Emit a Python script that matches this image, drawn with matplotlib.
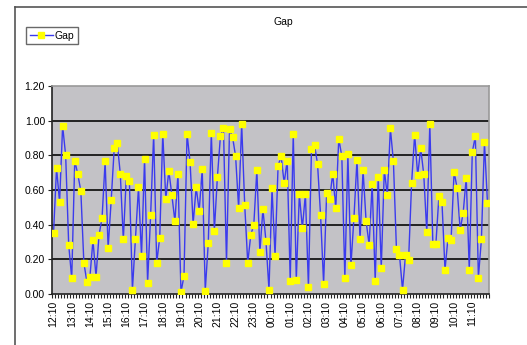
import matplotlib
matplotlib.use("Agg")
import matplotlib.pyplot as plt
from matplotlib.lines import Line2D
import numpy as np

title = "Gap"
series_name = "Gap"
gap = [0.35, 0.725, 0.53, 0.97, 0.80, 0.285, 0.09, 0.77, 0.69, 0.595,
       0.18, 0.07, 0.10, 0.31, 0.10, 0.34, 0.44, 0.765, 0.265, 0.54,
       0.84, 0.87, 0.695, 0.315, 0.68, 0.65, 0.025, 0.315, 0.615, 0.22,
       0.78, 0.065, 0.455, 0.92, 0.18, 0.325, 0.925, 0.55, 0.71, 0.57,
       0.42, 0.69, 0.01, 0.105, 0.925, 0.76, 0.405, 0.615, 0.48, 0.72,
       0.02, 0.295, 0.93, 0.365, 0.675, 0.91, 0.96, 0.18, 0.95, 0.905,
       0.795, 0.495, 0.98, 0.515, 0.18, 0.34, 0.40, 0.715, 0.24, 0.49,
       0.305, 0.025, 0.61, 0.22, 0.74, 0.795, 0.64, 0.77, 0.077, 0.925,
       0.083, 0.575, 0.38, 0.577, 0.04, 0.835, 0.86, 0.75, 0.455, 0.06,
       0.58, 0.55, 0.695, 0.495, 0.895, 0.795, 0.09, 0.805, 0.165, 0.44,
       0.775, 0.315, 0.715, 0.42, 0.285, 0.635, 0.077, 0.675, 0.15, 0.715,
       0.57, 0.955, 0.765, 0.26, 0.225, 0.025, 0.225, 0.195, 0.64, 0.92,
       0.685, 0.84, 0.69, 0.355, 0.98, 0.29, 0.29, 0.565, 0.53, 0.14,
       0.325, 0.31, 0.705, 0.61, 0.37, 0.47, 0.67, 0.14, 0.82, 0.91,
       0.095, 0.315, 0.875, 0.525]
hour_labels = ["12:10", "13:10", "14:10", "15:10", "16:10", "17:10", "18:10",
               "19:10", "20:10", "21:10", "22:10", "23:10", "00:10", "01:10",
               "02:10", "03:10", "04:10", "05:10", "06:10", "07:10", "08:10",
               "09:10", "10:10", "11:10"]
y_ticks = [0.0, 0.2, 0.4, 0.6, 0.8, 1.0, 1.2]

plt.rcParams['font.family'] = ['Liberation Sans', 'DejaVu Sans']

W, H = 527, 345
fig = plt.figure(figsize=(W / 100, H / 100), dpi=100)
fig.patch.set_facecolor("white")

# chart area border (left & top)
fig.add_artist(Line2D([15 / W, 15 / W], [0, 1 - 7 / H], transform=fig.transFigure,
                      color="#555555", lw=1.2))
fig.add_artist(Line2D([15 / W, 1], [1 - 7 / H, 1 - 7 / H], transform=fig.transFigure,
                      color="#555555", lw=1.2))

ax = fig.add_axes([52 / W, 1 - 294 / H, (489 - 52) / W, (294 - 86) / H])
ax.set_facecolor("#C3C2C6")

n = len(gap)
x = np.arange(n)
ax.plot(x, gap, color="#3B3BEE", lw=1.0, marker="s", markersize=3.8,
        markerfacecolor="#FFFF00", markeredgecolor="#FFFF00", label=series_name,
        zorder=3)

ax.set_xlim(-0.5, n - 0.5)
ax.set_ylim(0, 1.2)
ax.set_yticks(y_ticks)
ax.set_yticklabels([f"{v:.2f}" for v in y_ticks], fontsize=7.5)
for v in y_ticks[1:-1]:
    ax.axhline(v, color="#222222", lw=1.4, zorder=1)

label_pos = np.arange(0, n, 6)[:len(hour_labels)]
ax.set_xticks(label_pos)
ax.set_xticklabels(hour_labels, rotation=90, fontsize=7.5)
ax.set_xticks(np.arange(-0.5, n, 1), minor=True)
ax.tick_params(axis="x", which="major", length=0, pad=5)
ax.tick_params(axis="x", which="minor", length=3, width=0.8, color="#222222")
ax.tick_params(axis="y", which="major", length=3, width=0.8, color="#222222", pad=2)

for s in ["top", "right"]:
    ax.spines[s].set_color("#999999")
    ax.spines[s].set_linewidth(1.2)
for s in ["left", "bottom"]:
    ax.spines[s].set_color("#222222")
    ax.spines[s].set_linewidth(1.2)

fig.text(283 / W, 1 - 22 / H, title, ha="center", va="center", fontsize=7.5)

leg = fig.legend(loc="upper left", bbox_to_anchor=(26 / W, 1 - 27 / H),
                 fontsize=7.5, frameon=True, fancybox=False, handlelength=2.2,
                 borderpad=0.35, handletextpad=0.2, borderaxespad=0)
leg.get_frame().set_edgecolor("#444444")
leg.get_frame().set_linewidth(1.0)

fig.savefig("out.png", dpi=100)
